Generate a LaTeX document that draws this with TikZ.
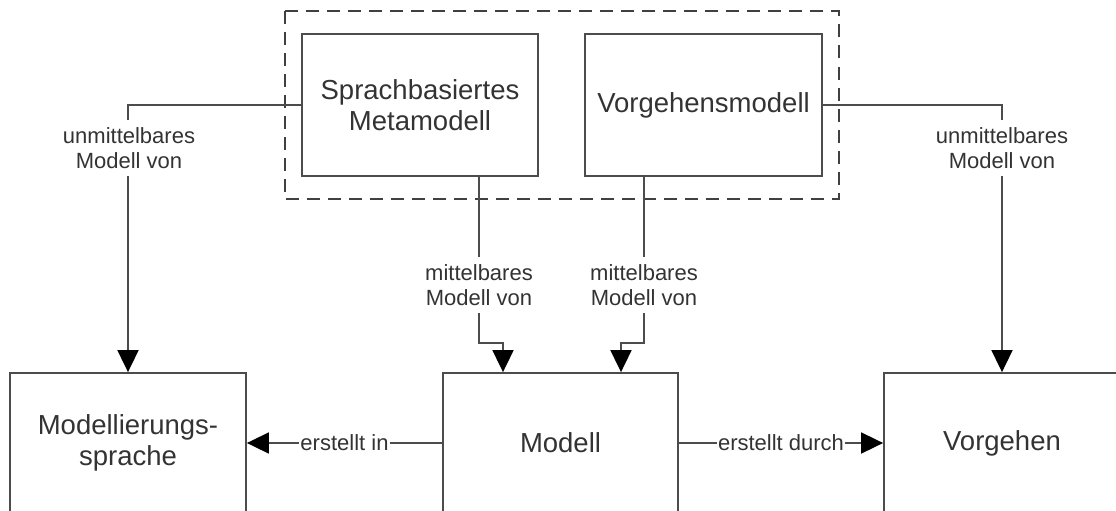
\documentclass[tikz,border=0pt]{standalone}
\usepackage{fontspec}
\setmainfont{Liberation Sans}
\usetikzlibrary{arrows.meta}
\begin{document}
\begin{tikzpicture}[x=1pt,y=-1pt,
  line/.style={draw=black!70, line width=1.8pt},
  box/.style={line, rectangle, inner sep=0pt, minimum width=236pt,
    minimum height=142pt, align=center, text=black!80,
    font=\fontsize{27.5}{31}\selectfont},
  lowbox/.style={box, minimum height=140pt},
  lbl/.style={fill=white, inner xsep=1pt, inner ysep=7pt, align=center,
    text=black!80, font=\fontsize{22}{25.5}\selectfont},
  arr/.style={line, -{Triangle[length=22pt,width=21pt,color=black]}},
  frame/.style={draw=black!75, line width=1.8pt, dash pattern=on 13pt off 8pt}]
\useasboundingbox (0,0) rectangle (1116,511);
\clip (0,0) rectangle (1116,511);

% upper level: meta models
\node[box] (sm) at (420,105) {Sprachbasiertes\\Metamodell};
\node[box, minimum width=237pt] (vm) at (703.5,105) {Vorgehensmodell};

% grouping frame around the meta models
\draw[frame] ([xshift=-16pt,yshift=22pt]sm.north west) rectangle
             ([xshift=16pt,yshift=-22pt]vm.south east);

% lower level
\node[lowbox] (ms) at (128,443) {Modellierungs-\\sprache};
\node[lowbox, minimum width=235pt] (mo) at (560.5,443) {Modell};
\node[lowbox] (vg) at (1002,443) {Vorgehen};

% direct model relations
\draw[arr] (sm.west) -| (ms.north);
\node[lbl] (l1) at (129,148) {unmittelbares\\Modell von};
\draw[arr] (vm.east) -| (vg.north);
\node[lbl] (l2) at (1002,148) {unmittelbares\\Modell von};

% indirect model relations
\draw[arr] ([xshift=59pt]sm.south) -- ++(0,166) -| ([xshift=-57.5pt]mo.north);
\node[lbl] (l3) at (479,285) {mittelbares\\Modell von};
\draw[arr] ([xshift=-59.5pt]vm.south) -- ++(0,166) -| ([xshift=60.5pt]mo.north);
\node[lbl] (l4) at (644,285) {mittelbares\\Modell von};

% creation relations
\draw[arr] (mo.west) -- (ms.east) node[lbl, midway] (l5) {erstellt in};
\draw[arr] (mo.east) -- (vg.west) node[lbl, midway] (l6) {erstellt durch};
\end{tikzpicture}
\end{document}
